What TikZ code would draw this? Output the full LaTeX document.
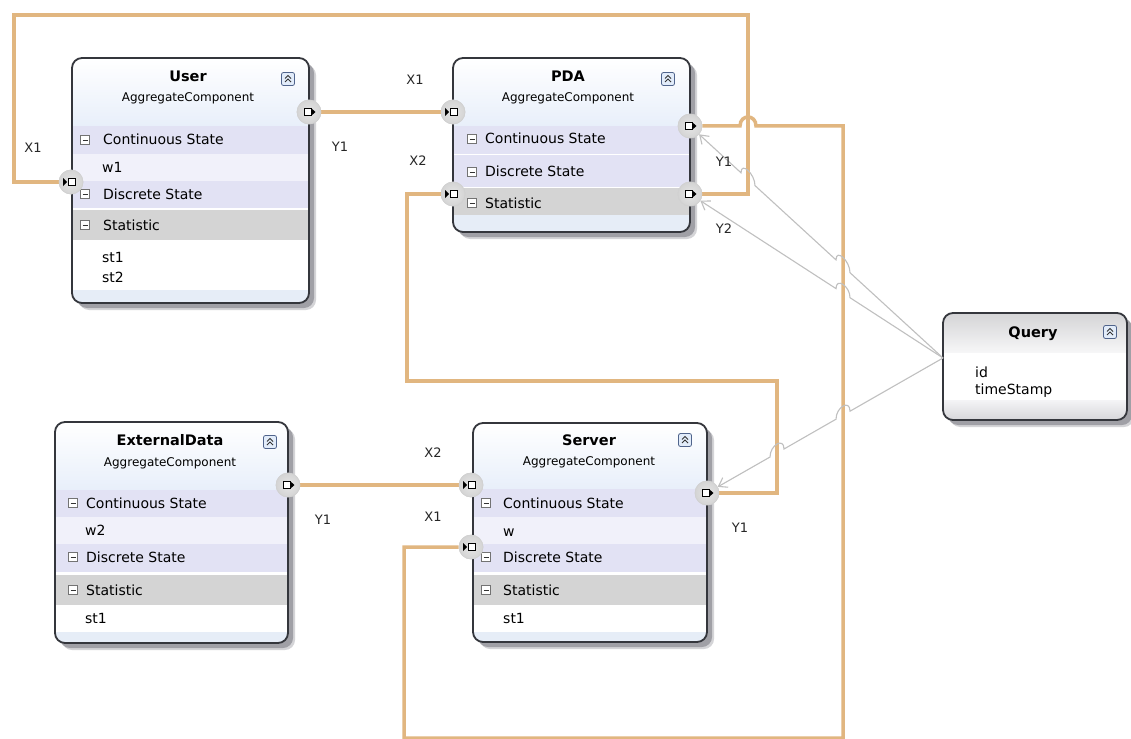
\documentclass[tikz,border=0pt]{standalone}
\usepackage{fontspec}
\setmainfont{DejaVu Sans}
\usetikzlibrary{arrows.meta}

\definecolor{wirec}{RGB}{225,182,128}
\definecolor{refc}{RGB}{192,192,192}
\definecolor{edgec}{RGB}{52,54,60}
\definecolor{hdrc}{RGB}{232,239,250}
\definecolor{bandc}{RGB}{226,226,244}
\definecolor{itemc}{RGB}{241,241,250}
\definecolor{statc}{RGB}{212,212,212}
\definecolor{footc}{RGB}{230,237,247}
\definecolor{shadowc}{RGB}{160,160,166}
\definecolor{portc}{RGB}{212,212,212}
\definecolor{iconc}{RGB}{80,100,140}
\definecolor{iconfill}{RGB}{226,236,250}

\tikzset{
  wire/.style={draw=wirec, line width=3.5pt},
  refline/.style={draw=refc, line width=1.1pt, -{Straight Barb[length=8pt,width=11pt,line width=1.1pt]}},
  portnode/.style={circle, minimum size=24pt, inner sep=0pt, inner color=black!10, outer color=portc, draw=black!18, line width=0.6pt},
  lbl/.style={font=\fontsize{13}{15}\selectfont, text=black!85, inner sep=0pt},
  ttl/.style={font=\bfseries\fontsize{14.5}{17}\selectfont, inner sep=0pt, anchor=base},
  subttl/.style={font=\fontsize{12}{14}\selectfont, inner sep=0pt, anchor=base},
  rowtxt/.style={font=\fontsize{14}{16}\selectfont, inner sep=0pt, anchor=base west},
  boxedge/.style={draw=edgec, line width=1.8pt, rounded corners=10pt},
}

% shadow and body of a component box: name, left, top, right, bottom
\newcommand\compbox[5]{%
  \fill[shadowc!45, rounded corners=10pt] ({#2+7},{#3+7}) rectangle ({#4+7},{#5+7});
  \fill[shadowc, rounded corners=10pt] ({#2+5},{#3+5}) rectangle ({#4+5},{#5+5});
  \node[inner sep=0pt, outer sep=0pt, fill=white, rounded corners=10pt,
        minimum width={(#4-#2)*1pt}, minimum height={(#5-#3)*1pt}]
        (#1) at ({(#2+#4)/2},{(#3+#5)/2}) {};
}
% collapse button
\newcommand\xpicon[2]{%
  \draw[iconc, fill=iconfill, line width=0.8pt, rounded corners=2pt]
    ({#1-6.5},{#2-6.5}) rectangle ({#1+6.5},{#2+6.5});
  \draw[black!80, line width=1pt]
    ({#1-3},{#2-0.5}) -- (#1,{#2-3.5}) -- ({#1+3},{#2-0.5})
    ({#1-3},{#2+3}) -- (#1,{#2}) -- ({#1+3},{#2+3});
}
% compartment toggle
\newcommand\mnicon[2]{%
  \draw[black!55, fill=white, line width=0.7pt] ({#1-4.5},{#2-4.5}) rectangle ({#1+4.5},{#2+4.5});
  \draw[black!80, line width=0.9pt] ({#1-2.5},#2) -- ({#1+2.5},#2);
}
% ports: name, x, y
\newcommand\inport[3]{%
  \node[portnode] (#1) at (#2,#3) {};
  \fill[black] ({#2-8},{#3-4}) -- ({#2-4},{#3}) -- ({#2-8},{#3+4}) -- cycle;
  \draw[black, line width=0.9pt, fill=white] ({#2-3},{#3-3.5}) rectangle ({#2+4},{#3+3.5});
}
\newcommand\outport[3]{%
  \node[portnode] (#1) at (#2,#3) {};
  \draw[black, line width=0.9pt, fill=white] ({#2-5},{#3-3.5}) rectangle ({#2+2},{#3+3.5});
  \fill[black] ({#2+2},{#3-4}) -- ({#2+6.5},{#3}) -- ({#2+2},{#3+4}) -- cycle;
}

\begin{document}
\begin{tikzpicture}[x=1pt,y=-1pt]
\useasboundingbox (0,0) rectangle (1131,738);
\clip (0,0) rectangle (1131,738);
\fill[white] (0,0) rectangle (1131,738);

% ---------------- User ----------------
\compbox{user}{72}{58}{309}{303}
\begin{scope}
  \clip[rounded corners=10pt] (72,58) rectangle (309,303);
  \shade[top color=white, bottom color=hdrc] (72,58) rectangle (309,126);
  \fill[bandc] (72,126) rectangle (309,154);
  \fill[itemc] (72,154) rectangle (309,181);
  \fill[bandc] (72,181) rectangle (309,208);
  \fill[statc] (72,210) rectangle (309,240);
  \fill[footc] (72,290) rectangle (309,303);
\end{scope}
\draw[boxedge] (72,58) rectangle (309,303);
\node[ttl] at (188,82) {User};
\node[subttl] at (188,101.5) {AggregateComponent};
\xpicon{288}{79}
\mnicon{85}{140} \node[rowtxt] at (103,145) {Continuous State};
\node[rowtxt] at (102,172) {w1};
\mnicon{85}{194} \node[rowtxt] at (103,199) {Discrete State};
\mnicon{85}{225} \node[rowtxt] at (103,230) {Statistic};
\node[rowtxt] at (102,262) {st1};
\node[rowtxt] at (102,282) {st2};

% ---------------- PDA ----------------
\compbox{pda}{453}{58}{690}{232}
\begin{scope}
  \clip[rounded corners=10pt] (453,58) rectangle (690,232);
  \shade[top color=white, bottom color=hdrc] (453,58) rectangle (690,126);
  \fill[bandc] (453,126) rectangle (690,154.5);
  \fill[bandc] (453,155.5) rectangle (690,187);
  \fill[statc] (453,188) rectangle (690,215);
  \fill[footc] (453,215) rectangle (690,232);
\end{scope}
\draw[boxedge] (453,58) rectangle (690,232);
\node[ttl] at (568,82) {PDA};
\node[subttl] at (568,101.5) {AggregateComponent};
\xpicon{668}{79}
\mnicon{472}{139} \node[rowtxt] at (485,144) {Continuous State};
\mnicon{472}{172} \node[rowtxt] at (485,177) {Discrete State};
\mnicon{472}{203} \node[rowtxt] at (485,208) {Statistic};

% ---------------- ExternalData ----------------
\compbox{extdata}{55}{422}{288}{643}
\begin{scope}
  \clip[rounded corners=10pt] (55,422) rectangle (288,643);
  \shade[top color=white, bottom color=hdrc] (55,422) rectangle (288,490);
  \fill[bandc] (55,490) rectangle (288,517);
  \fill[itemc] (55,517) rectangle (288,544);
  \fill[bandc] (55,544) rectangle (288,572);
  \fill[statc] (55,575) rectangle (288,605);
  \fill[footc] (55,632) rectangle (288,643);
\end{scope}
\draw[boxedge] (55,422) rectangle (288,643);
\node[ttl] at (170,445) {ExternalData};
\node[subttl] at (170,466) {AggregateComponent};
\xpicon{270}{442}
\mnicon{73}{503} \node[rowtxt] at (86,508) {Continuous State};
\node[rowtxt] at (85,535) {w2};
\mnicon{73}{557} \node[rowtxt] at (86,562) {Discrete State};
\mnicon{73}{590} \node[rowtxt] at (86,595) {Statistic};
\node[rowtxt] at (85,623) {st1};

% ---------------- Server ----------------
\compbox{server}{473}{423}{707}{642}
\begin{scope}
  \clip[rounded corners=10pt] (473,423) rectangle (707,642);
  \shade[top color=white, bottom color=hdrc] (473,423) rectangle (707,489);
  \fill[bandc] (473,489) rectangle (707,517);
  \fill[itemc] (473,517) rectangle (707,544);
  \fill[bandc] (473,544) rectangle (707,572);
  \fill[statc] (473,575) rectangle (707,605);
  \fill[footc] (473,632) rectangle (707,642);
\end{scope}
\draw[boxedge] (473,423) rectangle (707,642);
\node[ttl] at (589,445) {Server};
\node[subttl] at (589,465) {AggregateComponent};
\xpicon{685}{440}
\mnicon{486}{503} \node[rowtxt] at (503,508) {Continuous State};
\node[rowtxt] at (503,536) {w};
\mnicon{486}{557} \node[rowtxt] at (503,562) {Discrete State};
\mnicon{486}{590} \node[rowtxt] at (503,595) {Statistic};
\node[rowtxt] at (503,623) {st1};

% ---------------- Query ----------------
\compbox{query}{943}{313}{1127}{420}
\begin{scope}
  \clip[rounded corners=10pt] (943,313) rectangle (1127,420);
  \shade[top color={rgb,255:red,212;green,212;blue,214}, bottom color={rgb,255:red,246;green,246;blue,247}] (943,313) rectangle (1127,352);
  \shade[top color={rgb,255:red,244;green,244;blue,246}, bottom color={rgb,255:red,214;green,214;blue,218}] (943,400) rectangle (1127,420);
\end{scope}
\draw[boxedge] (943,313) rectangle (1127,420);
\node[ttl] at (1033,337) {Query};
\xpicon{1110}{332}
\node[rowtxt] at (975,377) {id};
\node[rowtxt] at (975,394) {timeStamp};

% ---------------- port anchors ----------------
\inport{uX1}{71}{182}
\outport{uY1}{309}{112}
\inport{pX1}{453}{112}
\inport{pX2}{453}{194}
\outport{pY1}{690}{126}
\outport{pY2}{690}{194}
\outport{eY1}{288}{485}
\inport{sX2}{471}{485}
\inport{sX1}{471}{547}
\outport{sY1}{707}{493}

% ---------------- couplings ----------------
\draw[wire] (uY1) -- (pX1);
\draw[wire] (eY1) -- (sX2);
\draw[wire] (pY2) -- (748,194) -- (748,15) -- (14,15) |- (uX1);
\draw[wire] (pY1) -- (740,126) .. controls (740,114) and (756,114) .. (756,126)
  -- (843,126) -- (843,738) -- (404,738) |- (sX1);
\draw[wire] (sY1) -- (777,493) -- (777,381) -- (407,381) |- (pX2);

% ---------------- references from Query ----------------
\coordinate (qIn) at (943,358);
\draw[refline] (qIn) -- (850,272.7) .. controls (850,261) and (836,248) .. (836,259.9)
  -- (755,185.6) .. controls (755,174) and (741,161) .. (741,172.8) -- (pY1);
\draw[refline] (qIn) -- (850,297.7) .. controls (850,286) and (836,277) .. (836,288.6) -- (pY2);
\draw[refline] (qIn) -- (850,411.2) .. controls (850,399) and (836,407) .. (836,419.2)
  -- (784,449) .. controls (784,437) and (770,445) .. (770,457) -- (sY1);

% ports drawn above the couplings
\inport{uX1}{71}{182}
\outport{uY1}{309}{112}
\inport{pX1}{453}{112}
\inport{pX2}{453}{194}
\outport{pY1}{690}{126}
\outport{pY2}{690}{194}
\outport{eY1}{288}{485}
\inport{sX2}{471}{485}
\inport{sX1}{471}{547}
\outport{sY1}{707}{493}

% ---------------- port labels ----------------
\node[lbl] (lUX1) at (33,148) {X1};
\node[lbl] (lUY1) at (340,147) {Y1};
\node[lbl] (lPX1) at (415,80) {X1};
\node[lbl] (lPX2) at (418,161) {X2};
\node[lbl] (lPY1) at (724,162) {Y1};
\node[lbl] (lPY2) at (724,229) {Y2};
\node[lbl] (lEY1) at (323,520) {Y1};
\node[lbl] (lSX2) at (433,453) {X2};
\node[lbl] (lSX1) at (433,517) {X1};
\node[lbl] (lSY1) at (740,528) {Y1};
\end{tikzpicture}
\end{document}
